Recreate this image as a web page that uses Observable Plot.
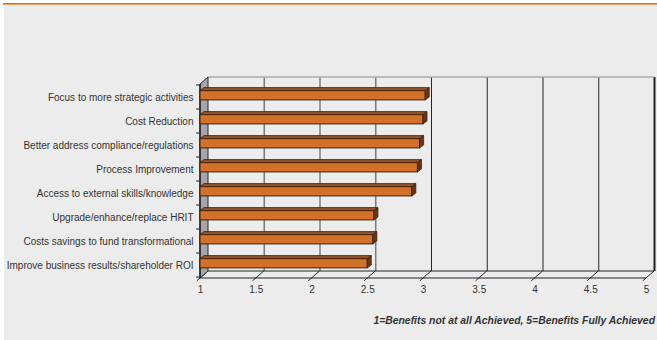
<!DOCTYPE html>
<html>
<head>
<meta charset="utf-8">
<script src="https://cdn.jsdelivr.net/npm/d3@7"></script>
<script src="https://cdn.jsdelivr.net/npm/@observablehq/plot@0.6"></script>
<style>
  html, body { margin: 0; padding: 0; background: #ffffff; }
  #page { position: relative; width: 657px; height: 340px; overflow: hidden;
          font-family: "Liberation Sans", Arial, sans-serif; }
  #panel { position: absolute; left: 4px; top: 5px; right: 0; bottom: 0; background: #ececec; }
  #rule { position: absolute; left: 3px; top: 3px; right: 0; height: 2px;
          background: linear-gradient(#cd6a2c 0 50%, #f0a262 50% 100%); }
  #chart { position: absolute; left: 0; top: 0; }
  #note { position: absolute; right: 2px; top: 315px; color: #333;
          font: italic bold 10.4px "Liberation Sans", Arial, sans-serif; white-space: nowrap; }
</style>
</head>
<body>
<div id="page">
  <div id="panel"></div>
  <div id="rule"></div>
  <div id="chart"></div>
  <div id="note"></div>
</div>
<script>
// Average rating of each benefit (1 = not at all achieved, 5 = fully achieved)
const categories = [
  "Focus to more strategic activities",
  "Cost Reduction",
  "Better address compliance/regulations",
  "Process Improvement",
  "Access to external skills/knowledge",
  "Upgrade/enhance/replace HRIT",
  "Costs savings to fund transformational",
  "Improve business results/shareholder ROI"
];
const scores = [3.02, 3.00, 2.97, 2.95, 2.90, 2.56, 2.55, 2.50];
const xTicks = [1, 1.5, 2, 2.5, 3, 3.5, 4, 4.5, 5];
const note = "1=Benefits not at all Achieved, 5=Benefits Fully Achieved";

const rows = categories.map((category, i) => ({category, score: scores[i]}));

// pseudo-3D depth of the chart box and of each bar, in pixels
const DX = 8, DY = -7;
const BX = 4, BY = -3;
const FONT = '"Liberation Sans", Arial, sans-serif';

function line(g, x1, y1, x2, y2, stroke, width = 1) {
  g.append("line").attr("x1", x1).attr("y1", y1).attr("x2", x2).attr("y2", y2)
    .attr("stroke", stroke).attr("stroke-width", width);
}

// floor, back-wall top edge, left wall and axis tick marks
function chartBox(index, {x, y}, values, dims) {
  const g = d3.create("svg:g");
  const top = dims.marginTop, bottom = dims.height - dims.marginBottom;
  const xa = x(xTicks[0]), xb = x(xTicks[xTicks.length - 1]);
  // back wall top edge
  line(g, xa + DX, top + DY, xb + DX, top + DY, "#adadad", 1.5);
  // floor
  line(g, xa + DX, bottom + DY, xb + DX, bottom + DY, "#222");
  line(g, xa, bottom, xb, bottom, "#222");
  for (const t of xTicks) {
    const px = x(t);
    line(g, px - 3.2, bottom + 2.8, px + DX, bottom + DY, "#222");
  }
  // left wall
  g.append("path")
    .attr("d", `M${xa},${bottom}L${xa},${top}L${xa + DX},${top + DY}L${xa + DX},${bottom + DY}Z`)
    .attr("fill", "#a6a6aa").attr("stroke", "#2a2a2a").attr("stroke-width", 1);
  line(g, xa, top, xa, bottom, "#111", 1.2);
  // category boundary ticks
  const bw = y.bandwidth();
  const edges = categories.map(c => y(c)).concat([y(categories[categories.length - 1]) + bw]);
  for (const e of edges) line(g, xa - 4, e, xa, e, "#222");
  return g.node();
}

// top and side faces of each bar
const INSET_TOP = 5.6, INSET_BOTTOM = 9.1;
function barFaces(index, {x, y}) {
  const g = d3.create("svg:g").attr("stroke", "#3a2210").attr("stroke-width", 0.8)
    .attr("stroke-linejoin", "round");
  const bw = y.bandwidth();
  for (const r of rows) {
    const x1 = x(1), x2 = x(r.score);
    const t = y(r.category) + INSET_TOP, b = y(r.category) + bw - INSET_BOTTOM;
    g.append("path")
      .attr("d", `M${x1},${t}L${x2},${t}L${x2 + BX},${t + BY}L${x1 + BX},${t + BY}Z`)
      .attr("fill", "#9c5220");
    g.append("path")
      .attr("d", `M${x2},${t}L${x2},${b}L${x2 + BX},${b + BY}L${x2 + BX},${t + BY}Z`)
      .attr("fill", "#6a3512");
  }
  return g.node();
}

const chart = Plot.plot({
  width: 657,
  height: 300,
  marginLeft: 200,
  marginRight: 11,
  marginTop: 84,
  marginBottom: 22,
  style: {background: "transparent", fontFamily: FONT, fontSize: "10px", color: "#333", overflow: "visible"},
  x: {domain: [1, 5], label: null},
  y: {domain: categories, padding: 0, label: null},
  marks: [
    Plot.ruleX(xTicks.filter(t => t > 1 && t < 3), {dx: DX, dy: DY, stroke: "#7c7c7c", strokeWidth: 1.5}),
    Plot.ruleX(xTicks.filter(t => t >= 3 && t < 5), {dx: DX, dy: DY, stroke: "#262626", strokeWidth: 1}),
    Plot.ruleX([5], {dx: DX, dy: DY, stroke: "#222", strokeWidth: 2}),
    chartBox,
    Plot.barX(rows, {
      x1: 1, x2: "score", y: "category",
      insetTop: INSET_TOP, insetBottom: INSET_BOTTOM,
      fill: "#d3712b", stroke: "#3a2210", strokeWidth: 1
    }),
    barFaces,
    Plot.axisY({tickSize: 0, tickPadding: 7, fontSize: 10, fill: "#333"}),
    Plot.axisX({ticks: xTicks, tickSize: 0, tickPadding: 7, fontSize: 10, fill: "#333",
                tickFormat: d => String(d)})
  ]
});

document.getElementById("chart").appendChild(chart);
document.getElementById("note").textContent = note;
</script>
</body>
</html>
